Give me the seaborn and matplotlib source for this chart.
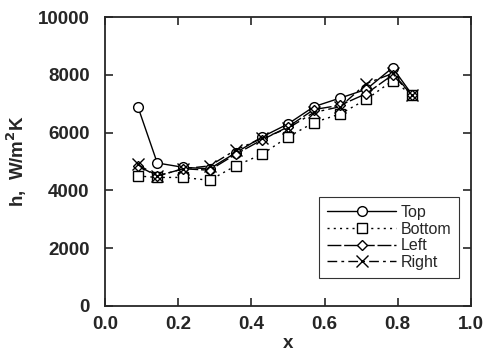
import numpy as np
import pandas as pd
import seaborn as sns
import matplotlib
matplotlib.use("Agg")
import matplotlib.pyplot as plt

x = [0.09, 0.143, 0.214, 0.286, 0.357, 0.429, 0.50, 0.571, 0.643, 0.714, 0.786, 0.84]
top = [6900, 4950, 4800, 4750, 5300, 5850, 6300, 6900, 7200, 7500, 8250, 7300]
bottom = [4500, 4450, 4450, 4350, 4850, 5250, 5850, 6350, 6650, 7150, 7800, 7300]
left = [4850, 4500, 4750, 4700, 5250, 5750, 6200, 6800, 6950, 7350, 8000, 7300]
right = [4900, 4500, 4750, 4850, 5400, 5800, 6150, 6700, 6900, 7700, 8050, 7300]

series = {"Top": top, "Bottom": bottom, "Left": left, "Right": right}
df = pd.concat([pd.DataFrame({"x": x, "h": v, "loc": k}) for k, v in series.items()])

sns.set_style("ticks")
plt.rcParams['font.family'] = ['Liberation Sans', 'DejaVu Sans']

fig = plt.figure(figsize=(4.88, 3.57), dpi=100)
ax = fig.add_axes([0.215, 0.143, 0.75, 0.809])

styles = {
    "Top": dict(marker="o", linestyle="-", ms=7),
    "Bottom": dict(marker="s", linestyle=(0, (1.5, 3)), ms=7),
    "Left": dict(marker="D", linestyle=(0, (10, 2)), ms=5.5),
    "Right": dict(marker="x", linestyle=(0, (7, 3, 2, 3)), ms=8),
}
for k in series:
    sub = df[df["loc"] == k]
    sns.lineplot(data=sub, x="x", y="h", ax=ax, color="black", lw=1.0,
                 mfc="white", mec="black", mew=1.0, label=k, **styles[k])

ax.set_xlim(0, 1.0)
ax.set_ylim(0, 10000)
ax.set_xticks(np.arange(0, 1.01, 0.2))
ax.set_yticks(np.arange(0, 10001, 2000))
ax.set_xticklabels([f"{t:.1f}" for t in np.arange(0, 1.01, 0.2)])
for lab in ax.get_xticklabels() + ax.get_yticklabels():
    lab.set_fontweight("bold")
    lab.set_fontsize(13.5)
ax.tick_params(direction="in", length=6, width=1.2, top=True, right=True)
ax.tick_params(axis="y", pad=11)
ax.tick_params(axis="x", pad=7)
for s in ax.spines.values():
    s.set_linewidth(1.3)
ax.set_xlabel("x", fontsize=13.5, fontweight="bold", labelpad=2)
ax.set_ylabel("h,  W/m$^\\mathbf{2}$K", fontsize=13.5, fontweight="bold", labelpad=6)

leg = ax.legend(loc="lower right", bbox_to_anchor=(0.99, 0.07), fontsize=11.5,
                frameon=True, fancybox=False, edgecolor="black", handlelength=4.3,
                borderpad=0.5, labelspacing=0.1, handletextpad=0.3)
leg.get_frame().set_linewidth(0.8)

plt.savefig("out.png", dpi=100)
